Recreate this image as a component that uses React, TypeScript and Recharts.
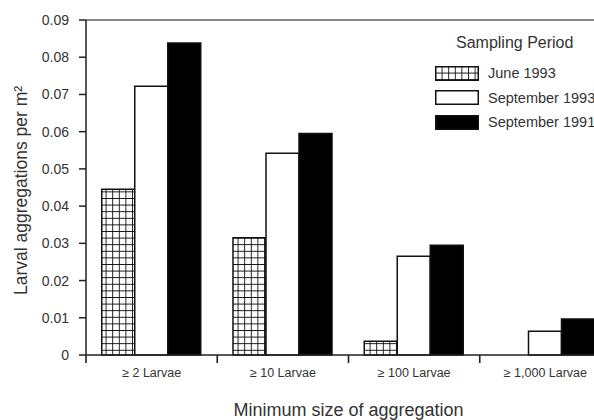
import { BarChart, Bar, XAxis, YAxis, ReferenceLine } from 'recharts';

const categories = ['≥ 2 Larvae', '≥ 10 Larvae', '≥ 100 Larvae', '≥ 1,000 Larvae'];
const june1993 = [0.0445, 0.0315, 0.0037, 0];
const sept1993 = [0.0722, 0.0542, 0.0265, 0.0064];
const sept1991 = [0.0838, 0.0595, 0.0295, 0.0097];
const yTicks = [0, 0.01, 0.02, 0.03, 0.04, 0.05, 0.06, 0.07, 0.08, 0.09];
const seriesNames = ['June 1993', 'September 1993', 'September 1991'];

const data = categories.map((name, i) => ({
    name,
    june1993: june1993[i],
    sept1993: sept1993[i],
    sept1991: sept1991[i],
}));

const font = "Arial, 'Liberation Sans', sans-serif";
const ink = '#222';

// label at band centre, tick mark at the band's left edge
function CategoryTick(props: any) {
    const { x, y, payload } = props;
    const half = payload && payload.offset ? payload.offset : 65.6;
    const tx = x - half;
    return (
        <g>
            <rect x={tx - 0.8} y={y - 11} width={1.6} height={8} fill={ink} />
            <text x={x} y={y} dy={11} textAnchor="middle" fontSize={12.5} fill="#333" fontFamily={font}>
                {payload.value}
            </text>
        </g>
    );
}

function Swatch({ kind }: { kind: number }) {
    return (
        <svg width={44} height={15} style={{ display: 'block' }}>
            <defs>
                <pattern id="legendGrid" width={6.6} height={6.6} patternUnits="userSpaceOnUse">
                    <rect width={6.6} height={6.6} fill="#fff" />
                    <path d="M0 0H6.6M0 0V6.6" stroke="#111" strokeWidth={1.8} />
                </pattern>
            </defs>
            <rect
                x={0.75}
                y={0.75}
                width={42.5}
                height={13.5}
                fill={kind === 0 ? 'url(#legendGrid)' : kind === 1 ? '#fff' : '#000'}
                stroke="#111"
                strokeWidth={1.5}
            />
        </svg>
    );
}

function SamplingLegend() {
    return (
        <div style={{ position: 'absolute', top: 31, left: 435, width: 200, fontFamily: font, color: '#333' }}>
            <div style={{ fontSize: 16, marginLeft: 21, height: 24, lineHeight: '24px' }}>Sampling Period</div>
            {seriesNames.map((s, i) => (
                <div key={s} style={{ display: 'flex', alignItems: 'center', height: 24.5, marginTop: i === 0 ? 6 : 0 }}>
                    <Swatch kind={i} />
                    <span style={{ fontSize: 14.5, marginLeft: 9, whiteSpace: 'nowrap' }}>{s}</span>
                </div>
            ))}
        </div>
    );
}

export default function App() {
    return (
        <div style={{ position: 'absolute', left: 0, top: 0, width: 594, height: 420, overflow: 'hidden', background: '#fff' }}>
            <BarChart
                width={611}
                height={420}
                data={data}
                margin={{ top: 20, right: 0, bottom: 0, left: 0 }}
                barCategoryGap="12%"
                barGap={0}
            >
                <defs>
                    <pattern id="juneGrid" width={6.6} height={6.6} patternUnits="userSpaceOnUse">
                        <rect width={6.6} height={6.6} fill="#fff" />
                        <path d="M0 0H6.6M0 0V6.6" stroke="#111" strokeWidth={1.8} />
                    </pattern>
                </defs>
                <YAxis
                    width={86}
                    domain={[0, 0.09]}
                    ticks={yTicks}
                    interval={0}
                    tickFormatter={(v: number) => (v === 0 ? '0' : v.toFixed(2))}
                    tickSize={7}
                    tickMargin={10}
                    stroke={ink}
                    strokeWidth={1.5}
                    tick={{ fontSize: 14, fill: '#333', fontFamily: font }}
                    label={{
                        value: 'Larval aggregations per m²',
                        angle: -90,
                        position: 'insideLeft',
                        offset: 21,
                        dy: 3,
                        style: { textAnchor: 'middle', fontSize: 17.5, fill: '#333', fontFamily: font },
                    }}
                />
                <XAxis
                    dataKey="name"
                    height={65}
                    interval={0}
                    tickSize={7}
                    tickMargin={4}
                    tickLine={false}
                    stroke={ink}
                    strokeWidth={1.5}
                    tick={<CategoryTick />}
                    label={{
                        value: 'Minimum size of aggregation',
                        position: 'insideBottom',
                        offset: 4,
                        style: { fontSize: 18, fill: '#333', fontFamily: font },
                    }}
                />
                <ReferenceLine y={0.09} stroke="#888" strokeWidth={2} />
                <Bar dataKey="june1993" name={seriesNames[0]} fill="url(#juneGrid)" stroke="#111" strokeWidth={1.5} isAnimationActive={false} />
                <Bar dataKey="sept1993" name={seriesNames[1]} fill="#fff" stroke="#111" strokeWidth={1.5} isAnimationActive={false} />
                <Bar dataKey="sept1991" name={seriesNames[2]} fill="#000" stroke="#111" strokeWidth={1.5} isAnimationActive={false} />
            </BarChart>
            <SamplingLegend />
        </div>
    );
}
